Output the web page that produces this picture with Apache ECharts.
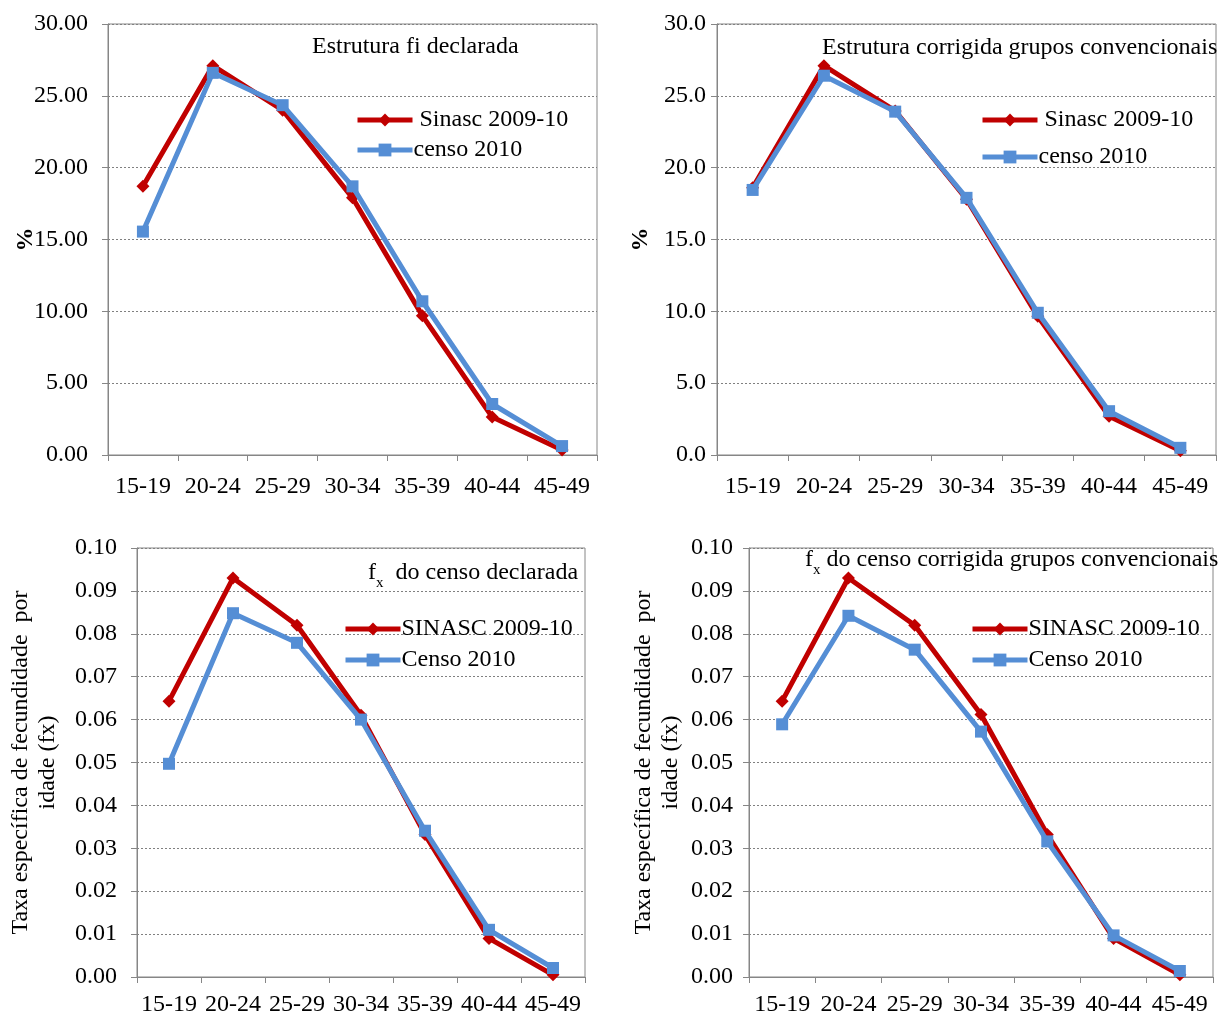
<!DOCTYPE html>
<html><head><meta charset="utf-8">
<script src="https://cdn.jsdelivr.net/npm/echarts@6/dist/echarts.min.js"></script>
<style>html,body{margin:0;padding:0;background:#fff;}#c{width:1220px;height:1017px;}</style>
</head><body><div id="c"></div>
<script>
var categories = ['15-19','20-24','25-29','30-34','35-39','40-44','45-49'];
// Panel 1: Estrutura fi declarada (%)
var p1Sinasc = [18.7, 27.1, 24.0, 17.9, 9.7, 2.64, 0.35];
var p1Censo  = [15.55, 26.6, 24.35, 18.7, 10.7, 3.55, 0.62];
// Panel 2: Estrutura corrigida grupos convencionais (%)
var p2Sinasc = [18.6, 27.1, 23.95, 17.8, 9.65, 2.7, 0.3];
var p2Censo  = [18.45, 26.4, 23.9, 17.9, 9.9, 3.05, 0.5];
// Panel 3: fx do censo declarada
var p3Sinasc = [0.0643, 0.0930, 0.0820, 0.0610, 0.0332, 0.0090, 0.0005];
var p3Censo  = [0.0497, 0.0848, 0.0779, 0.0600, 0.0341, 0.0110, 0.0021];
// Panel 4: fx do censo corrigida grupos convencionais
var p4Sinasc = [0.0643, 0.0930, 0.0820, 0.0612, 0.0332, 0.0090, 0.0005];
var p4Censo  = [0.0589, 0.0842, 0.0763, 0.0572, 0.0316, 0.0097, 0.0014];

var RED = '#C00000', BLUE = '#558ED5', AX = '#868686';
var FONT = '"Liberation Serif","Times New Roman",serif';
var FS = 24;

var grids = [
  {left:108, top:24, width:489, height:431},
  {left:717, top:24, width:499, height:431},
  {left:137, top:548, width:448, height:431},
  {left:749, top:548, width:464, height:431}
];
grids.forEach(function(g){ g.show = true; g.borderColor = AX; g.borderWidth = 1; g.containLabel = false; });

function xAx(i, margin){
  return {type:'category', gridIndex:i, data:categories, boundaryGap:true,
    axisLine:{lineStyle:{color:AX, width:1}},
    axisTick:{show:true, alignWithLabel:false, length:6, inside:false, lineStyle:{color:AX}},
    axisLabel:{color:'#000', fontFamily:FONT, fontSize:FS, margin:margin, interval:0},
    splitLine:{show:false}};
}
function yAx(i, max, interval, dec, margin, name, nameGap, bold){
  return {type:'value', gridIndex:i, min:0, max:max, interval:interval,
    name:name, nameLocation:'middle', nameGap:nameGap, nameMoveOverlap:false,
    nameTextStyle:{color:'#000', fontFamily:FONT, fontSize:FS, fontWeight: bold ? 'bold':'normal', lineHeight:27},
    axisLine:{show:true, lineStyle:{color:AX, width:1}},
    axisTick:{show:true, length:6, lineStyle:{color:AX}},
    axisLabel:{color:'#000', fontFamily:FONT, fontSize:FS, margin:margin,
      formatter:function(v){ return v.toFixed(dec); }},
    splitLine:{show:true, lineStyle:{color:'#808080', type:[2,2], width:1}}};
}
function ser(name, data, i, red){
  return {type:'line', name:name, xAxisIndex:i, yAxisIndex:i, data:data,
    symbol: red ? 'diamond' : 'rect', symbolSize: red ? 13 : 12,
    lineStyle:{color: red?RED:BLUE, width:5},
    itemStyle:{color: red?RED:BLUE},
    z: red ? 2 : 3, animation:false};
}
function leg(names, left, top, gap, fmt){
  return {show:true, orient:'vertical', left:left, top:top, padding:0, itemWidth:55, itemHeight:16, itemGap:gap,
    data:names, textStyle:{color:'#000', fontFamily:FONT, fontSize:FS, padding:[0,0,0,-4]},
    lineStyle:{width:5},
    formatter: fmt || function(n){return n;}, selectedMode:false};
}
var spaceFmt = function(n){ return n.indexOf('Sinasc') === 0 ? ' ' + n : n; };
var tStyle = {fontFamily:FONT, fontSize:FS, fontWeight:'normal', color:'#000'};
var rich = {a:{fontFamily:FONT, fontSize:FS, fontWeight:'normal', color:'#000', verticalAlign:'bottom'},
            s:{fontFamily:FONT, fontSize:15, fontWeight:'normal', color:'#000', verticalAlign:'bottom', padding:[0,0,-6,0]}};

var option = {
  animation:false,
  backgroundColor:'#fff',
  title:[
    {text:'Estrutura fi declarada', left:312, top:35, padding:0, textStyle:tStyle},
    {text:'Estrutura corrigida grupos convencionais', left:822, top:36, padding:0, textStyle:tStyle},
    {text:'{a|f}{s|x}{a|  do censo declarada}', left:368, top:561, padding:0, textStyle:{fontWeight:'normal', rich:rich}},
    {text:'{a|f}{s|x}{a| do censo corrigida grupos convencionais}', left:805, top:548, padding:0, textStyle:{fontWeight:'normal', rich:rich}}
  ],
  legend:[
    leg(['Sinasc 2009-10','censo 2010'], 355, 108, 6, spaceFmt),
    leg(['Sinasc 2009-10 ','censo 2010 '], 980, 108, 13, spaceFmt),
    leg(['SINASC 2009-10','Censo 2010'], 343, 617, 7),
    leg(['SINASC 2009-10 ','Censo 2010 '], 970, 617, 7)
  ],
  grid: grids,
  xAxis:[xAx(0,20), xAx(1,20), xAx(2,16), xAx(3,16)],
  yAxis:[
    yAx(0, 30, 5, 2, 20, '%', 69, true),
    yAx(1, 30, 5, 1, 11, '%', 63, true),
    yAx(2, 0.1, 0.01, 2, 20, 'Taxa específica de fecundidade  por\nidade (fx)', 76, false),
    yAx(3, 0.1, 0.01, 2, 16, 'Taxa específica de fecundidade  por\nidade (fx)', 65, false)
  ],
  series:[
    ser('Sinasc 2009-10', p1Sinasc, 0, true),
    ser('censo 2010', p1Censo, 0, false),
    ser('Sinasc 2009-10 ', p2Sinasc, 1, true),
    ser('censo 2010 ', p2Censo, 1, false),
    ser('SINASC 2009-10', p3Sinasc, 2, true),
    ser('Censo 2010', p3Censo, 2, false),
    ser('SINASC 2009-10 ', p4Sinasc, 3, true),
    ser('Censo 2010 ', p4Censo, 3, false)
  ]
};
var chart = echarts.init(document.getElementById('c'), null, {renderer:'canvas'});
chart.setOption(option);
</script></body></html>
